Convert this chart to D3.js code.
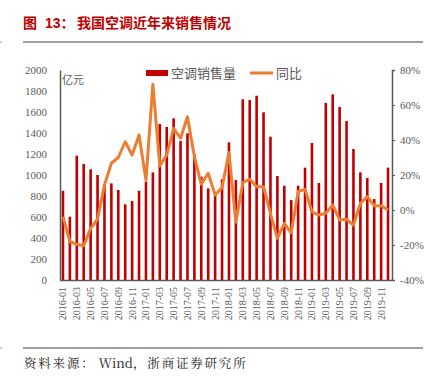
<!DOCTYPE html>
<html><head><meta charset="utf-8">
<script src="https://cdn.jsdelivr.net/npm/d3@7"></script>
<style>body{margin:0;background:#fff}svg{display:block}</style>
</head><body>
<script>
const months = [];
for (let y = 2016; y <= 2019; y++) for (let m = 1; m <= 12; m++) months.push(y + "-" + String(m).padStart(2, "0"));
const sales = [850,603,1184,1105,1054,1000,910,920,857,721,752,850,
  936,1025,1486,1458,1540,1324,1397,1200,984,873,810,959,
  1311,952,1721,1714,1755,1597,1365,990,898,762,898,1070,
  1305,924,1686,1768,1648,1514,1248,1025,971,771,924,1070];
const yoy = [-3.8,-18,-19.6,-20.4,-10.5,-5.3,14.3,26.7,30,39,31.4,42.9,
  17.1,71.8,25.1,31.4,46.7,41,53.3,30.5,14.7,21,8.6,12.8,
  32.8,-7,15.6,17.7,13.3,13.3,-1.9,-16.2,-7.6,-13,10.5,11.8,
  -1,-2.9,-1.9,2.9,-5.7,-5.3,-8.6,3.8,7.6,2.5,2.5,0];
const leftTicks = d3.range(0, 2001, 200);
const rightTicks = [-40,-20,0,20,40,60,80];
const xLabels = months.filter((d, i) => i % 2 === 0);
const seriesNames = ["空调销售量", "同比"];
const title = ["图", "13：", "我国空调近年来销售情况"];
const sourceParts = ["资料来源：", "Wind", "，浙商证券研究所"];
const unit = "亿元";

const W = 433, H = 382;
const svg = d3.select("body").append("svg").attr("width", W).attr("height", H);
const gray = "#595959", axisCol = "#595959";
const serif = "'Liberation Serif','Times New Roman',serif";
const cjk = "'Noto Sans CJK SC','Noto Sans',sans-serif";

// title
const tt = svg.append("text").attr("y", 28).attr("fill", "#c00000")
  .attr("font-family", "'Liberation Sans','Noto Sans CJK SC',sans-serif").attr("font-weight", "bold").attr("font-size", 14);
tt.append("tspan").attr("x", 23).text(title[0]);
tt.append("tspan").attr("x", 45).text(title[1]);
tt.append("tspan").attr("x", 77).attr("font-family", cjk).text(title[2]);
svg.append("line").attr("x1", 23).attr("x2", 423).attr("y1", 42).attr("y2", 42).attr("stroke", "#808080").attr("stroke-width", 1.5);
svg.append("line").attr("x1", 23).attr("x2", 423).attr("y1", 348).attr("y2", 348).attr("stroke", "#808080").attr("stroke-width", 1.5);
svg.append("line").attr("x1", 0).attr("x2", 2).attr("y1", 42).attr("y2", 42).attr("stroke", "#999");
svg.append("line").attr("x1", 0).attr("x2", 2).attr("y1", 348).attr("y2", 348).attr("stroke", "#999");
const st = svg.append("text").attr("x", 24).attr("y", 368).attr("fill", "#222")
  .attr("font-family", "'Noto Serif CJK SC'," + serif + ",'Noto Sans CJK SC'").attr("font-size", 12.5);
st.append("tspan").attr("letter-spacing", 1.8).text(sourceParts[0]);
st.append("tspan").attr("dx", 3).attr("font-size", 13).text(sourceParts[1]);
st.append("tspan").attr("letter-spacing", 1.8).text(sourceParts[2]);

const x = d3.scaleBand().domain(months).range([59.5, 391.5]);
const yL = d3.scaleLinear().domain([0, 2000]).range([280, 70]);
const yR = d3.scaleLinear().domain([-40, 80]).range([280, 70]);

// bars
svg.append("g").selectAll("rect").data(sales).join("rect")
  .attr("x", (d, i) => x(months[i]) + x.bandwidth() / 2 - 1.3)
  .attr("width", 2.6)
  .attr("y", d => yL(d)).attr("height", d => yL(0) - yL(d))
  .attr("fill", "#c00000");

// line
const line = d3.line().x((d, i) => x(months[i]) + x.bandwidth() / 2).y(d => yR(d));
svg.append("path").datum(yoy).attr("d", line).attr("fill", "none")
  .attr("stroke", "#ed7d31").attr("stroke-width", 3).attr("stroke-linejoin", "round");

// left axis
const gL = svg.append("g").attr("transform", "translate(60,0)")
  .call(d3.axisLeft(yL).tickValues(leftTicks).tickSize(0).tickPadding(13).tickFormat(d3.format("d")));
gL.select(".domain").attr("stroke", axisCol).attr("stroke-width", 1.5);
gL.selectAll("text").attr("font-family", serif).attr("font-size", 11).attr("fill", gray);

// right axis
const gR = svg.append("g").attr("transform", "translate(392,0)")
  .call(d3.axisRight(yR).tickValues(rightTicks).tickSize(3).tickSizeOuter(3).tickPadding(5).tickFormat(d => d + "%"));
gR.select(".domain").attr("stroke", axisCol).attr("stroke-width", 1.5);
gR.selectAll(".tick line").attr("stroke", axisCol);
gR.selectAll("text").attr("font-family", serif).attr("font-size", 11).attr("fill", gray);

// x axis
const gX = svg.append("g").attr("transform", "translate(0,280)")
  .call(d3.axisBottom(x).tickValues(xLabels).tickSize(0).tickSizeOuter(0));
gX.select(".domain").attr("stroke", axisCol).attr("stroke-width", 1.5);
gX.selectAll("text").attr("font-family", serif).attr("font-size", 10).attr("fill", gray)
  .attr("transform", "rotate(-90)").attr("text-anchor", "end").attr("x", -7).attr("y", 0).attr("dy", "0.35em");

// unit
svg.append("text").attr("x", 62).attr("y", 84).attr("font-family", cjk).attr("font-size", 11).attr("fill", gray).text(unit);

// legend
svg.append("rect").attr("x", 146).attr("y", 70).attr("width", 22).attr("height", 6).attr("fill", "#c00000");
svg.append("text").attr("x", 171).attr("y", 78).attr("font-family", cjk).attr("font-size", 13).attr("fill", gray).text(seriesNames[0]);
svg.append("line").attr("x1", 250).attr("x2", 273).attr("y1", 73).attr("y2", 73).attr("stroke", "#ed7d31").attr("stroke-width", 3);
svg.append("text").attr("x", 276).attr("y", 78).attr("font-family", cjk).attr("font-size", 13).attr("fill", gray).text(seriesNames[1]);
</script>
</body></html>
